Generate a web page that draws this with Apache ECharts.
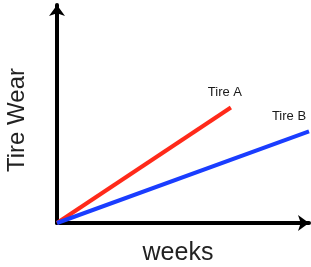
<!DOCTYPE html>
<html>
<head>
<meta charset="utf-8">
<script src="https://cdn.jsdelivr.net/npm/echarts@6/dist/echarts.min.js"></script>
<style>
  html, body { margin: 0; padding: 0; background: #fff; }
  #chart { width: 311px; height: 267px; }
</style>
</head>
<body>
<div id="chart"></div>
<script>
// weeks (x) and wear (y)
const weeksA = [0, 69]
const wearA = [0, 53]
const weeksB = [0, 100]
const wearB = [0, 42]
const seriesNames = ['Tire A', 'Tire B']

const chart = echarts.init(document.getElementById('chart'))

const axisStyle = { lineStyle: { color: '#000', width: 4 } }
const font = 'Liberation Sans, Arial, sans-serif'

// label only the last point of each line
const makeSeries = (name, xs, ys, color, offset) => ({
  name,
  type: 'line',
  data: xs.map((x, i) => [x, ys[i]]),
  symbol: 'circle',
  symbolSize: 0,
  showSymbol: true,
  lineStyle: { color, width: 4 },
  label: {
    show: true,
    position: 'top',
    formatter: p => (p.dataIndex === xs.length - 1 ? name : ''),
    color: '#1a1a1a',
    fontSize: 13,
    fontFamily: font,
    offset
  }
})

chart.setOption({
  animation: false,
  grid: { left: 57, right: 2, top: 5, bottom: 44, outerBoundsMode: 'none' },
  xAxis: {
    type: 'value', min: 0, max: 100,
    name: 'weeks', nameLocation: 'middle', nameGap: 18,
    nameTextStyle: { color: '#222', fontSize: 25, fontFamily: font, padding: [0, 10, 0, 0] },
    axisLine: { ...axisStyle, symbol: ['none', 'arrow'], symbolSize: [12, 11] },
    axisTick: { show: false }, axisLabel: { show: false }, splitLine: { show: false }
  },
  yAxis: {
    type: 'value', min: 0, max: 100,
    name: 'Tire Wear', nameLocation: 'middle', nameGap: 28,
    nameTextStyle: { color: '#222', fontSize: 24, fontFamily: font, padding: [0, 12, 0, 0] },
    axisLine: { ...axisStyle, symbol: ['none', 'arrow'], symbolSize: [12, 11] },
    axisTick: { show: false }, axisLabel: { show: false }, splitLine: { show: false }
  },
  series: [
    makeSeries(seriesNames[0], weeksA, wearA, '#ff2a1a', [-6, -4]),
    makeSeries(seriesNames[1], weeksB, wearB, '#1a3dff', [-20, -4])
  ]
})
</script>
</body>
</html>
